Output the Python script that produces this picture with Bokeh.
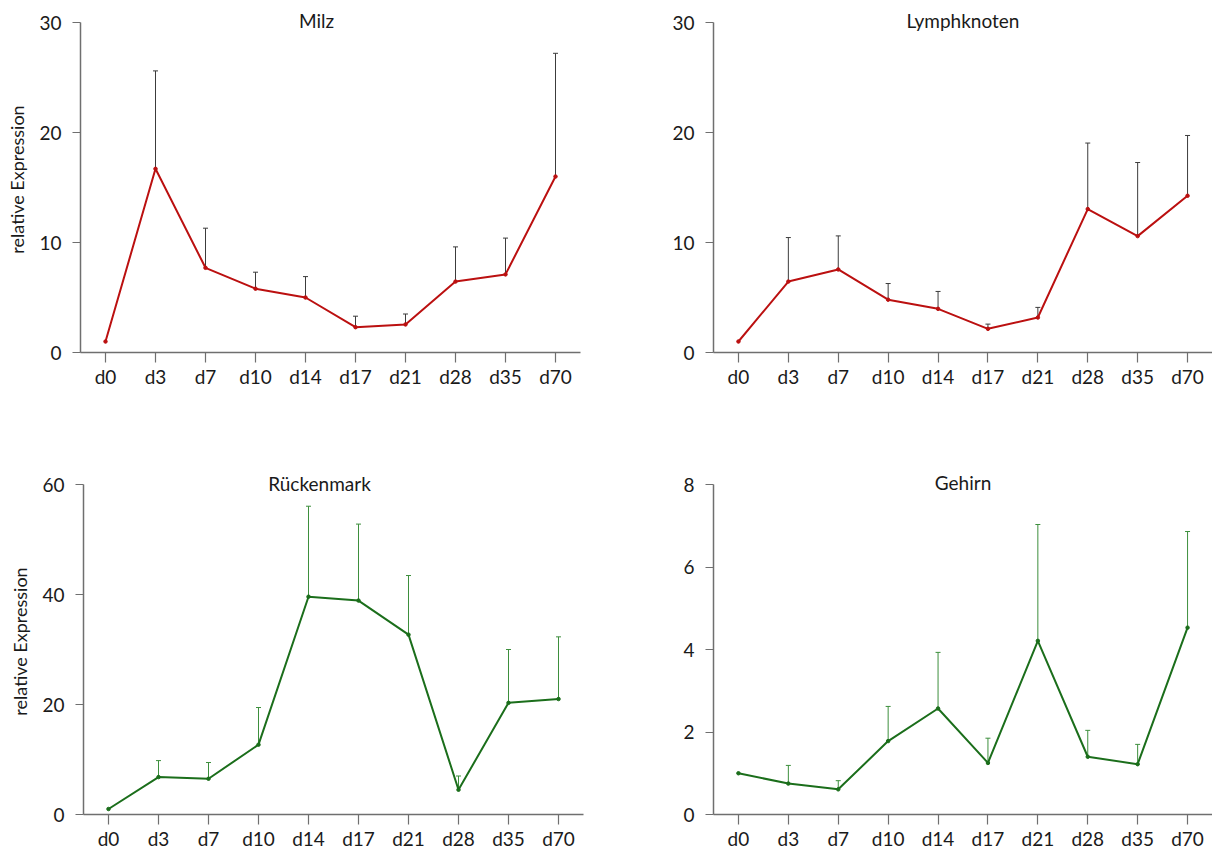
from bokeh.plotting import figure
from bokeh.models import ColumnDataSource, Range1d, FactorRange, FixedTicker, Whisker, TeeHead, Label
from bokeh.layouts import row, column
from bokeh.embed import file_html
from bokeh.resources import INLINE

days = ["d0", "d3", "d7", "d10", "d14", "d17", "d21", "d28", "d35", "d70"]

milz_mean = [1.0, 16.7, 7.7, 5.8, 5.0, 2.3, 2.55, 6.45, 7.1, 16.0]
milz_sd = [0.0, 8.9, 3.6, 1.5, 1.9, 1.0, 0.95, 3.15, 3.3, 11.2]

lymph_mean = [1.0, 6.45, 7.55, 4.8, 3.97, 2.15, 3.18, 13.04, 10.58, 14.25]
lymph_sd = [0.0, 4.0, 3.05, 1.47, 1.58, 0.43, 0.92, 6.0, 6.69, 5.48]

ruecken_mean = [1.0, 6.8, 6.5, 12.7, 39.6, 38.9, 32.7, 4.5, 20.3, 21.0]
ruecken_sd = [0.0, 3.0, 2.95, 6.75, 16.45, 13.9, 10.75, 2.5, 9.7, 11.3]

gehirn_mean = [1.0, 0.75, 0.61, 1.78, 2.57, 1.25, 4.21, 1.40, 1.22, 4.53]
gehirn_sd = [0.0, 0.44, 0.21, 0.84, 1.36, 0.60, 2.82, 0.64, 0.48, 2.33]

FONT = "Lato"
RED = "#bb1010"
GREEN = "#1b6e1b"
AXIS = "#6f6f6f"
PAD = 16  # extra pixels above the top tick so the title sits inside the frame
AX_H = 330  # pixel height of the 0..ymax axis


def panel(title, mean, sd, ymax, yticks, color, err_color, ylabel,
          bl, br, top, bb, fw, title_dx, title_dy):
    yend = ymax * (AX_H + PAD) / AX_H
    p = figure(x_range=FactorRange(factors=days, range_padding=0),
               y_range=Range1d(0, yend),
               frame_width=fw, frame_height=AX_H + PAD,
               min_border_left=bl, min_border_right=br,
               min_border_top=top - PAD, min_border_bottom=bb,
               output_backend="svg", toolbar_location=None)
    p.outline_line_color = None
    p.xgrid.visible = False
    p.ygrid.visible = False
    p.background_fill_color = "white"
    p.border_fill_color = "white"

    for ax in (p.xaxis[0], p.yaxis[0]):
        ax.axis_line_color = AXIS
        ax.axis_line_width = 1.5
        ax.major_tick_line_color = AXIS
        ax.major_tick_line_width = 1.2
        ax.minor_tick_line_color = None
        ax.major_tick_in = 0
        ax.major_label_text_font = FONT
        ax.major_label_text_font_size = "19px"
        ax.major_label_text_color = "#1a1a1a"
    p.xaxis.major_tick_out = 10
    p.xaxis.major_label_standoff = 2
    p.yaxis.major_tick_out = 8
    p.yaxis.major_label_standoff = 11
    p.yaxis.bounds = (0, ymax)
    p.yaxis.ticker = FixedTicker(ticks=yticks)
    if ylabel:
        p.yaxis.axis_label = ylabel
        p.yaxis.axis_label_text_font = FONT
        p.yaxis.axis_label_text_font_size = "18px"
        p.yaxis.axis_label_text_font_style = "normal"
        p.yaxis.axis_label_text_color = "#1a1a1a"
        p.yaxis.axis_label_standoff = 8

    hi = [m + s for m, s in zip(mean, sd)]
    err_days = [d for d, s in zip(days, sd) if s > 0]
    err_lo = [m for m, s in zip(mean, sd) if s > 0]
    err_hi = [h for h, s in zip(hi, sd) if s > 0]
    esrc = ColumnDataSource(data=dict(day=err_days, lo=err_lo, hi=err_hi))
    w = Whisker(base="day", lower="lo", upper="hi", source=esrc,
                line_color=err_color, line_width=1,
                upper_head=TeeHead(size=5, line_color=err_color, line_width=1),
                lower_head=None, level="underlay")
    p.add_layout(w)

    src = ColumnDataSource(data=dict(day=days, mean=mean))
    p.line("day", "mean", source=src, line_color=color, line_width=2)
    p.scatter("day", "mean", source=src, size=3.5, marker="circle",
              fill_color=color, line_color=color)

    lab = Label(x=5, y=ymax, x_units="data", y_units="data", text=title,
                text_align="center", text_baseline="middle",
                x_offset=title_dx, y_offset=title_dy,
                text_font=FONT, text_font_size="19px", text_color="#1a1a1a")
    p.add_layout(lab)
    return p


p1 = panel("Milz", milz_mean, milz_sd, 30, [0, 10, 20, 30], RED, "#3c3c3c",
           "relative Expression", 80, 26, 19, 111, 500, -14, 2)
p2 = panel("Lymphknoten", lymph_mean, lymph_sd, 30, [0, 10, 20, 30], RED, "#3c3c3c",
           None, 107, 0, 22, 108, 499, 0, 2)
p3 = panel("R\u00fcckenmark", ruecken_mean, ruecken_sd, 60, [0, 20, 40, 60], GREEN, "#3d8f3d",
           "relative Expression", 83, 23, 24, 39, 500, -14, 1)
p4 = panel("Gehirn", gehirn_mean, gehirn_sd, 8, [0, 2, 4, 6, 8], GREEN, "#3d8f3d",
           None, 107, 0, 21, 42, 499, 0, 2)

layout = column(row(p1, p2), row(p3, p4))

open("out.html", "w").write(file_html(layout, INLINE))
